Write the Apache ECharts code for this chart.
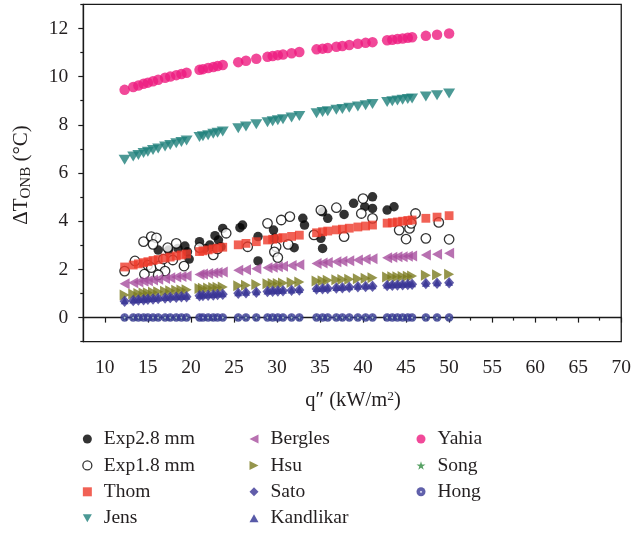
<!DOCTYPE html>
<html>
<head>
<meta charset="utf-8">
<script src="https://cdn.jsdelivr.net/npm/echarts@6/dist/echarts.min.js"></script>
<style>html,body{margin:0;padding:0;background:#fff}#c{width:634px;height:533px}</style>
</head>
<body>
<div id="c"></div>
<script>
// ---- data ----
const xTicks = [10,15,20,25,30,35,40,45,50,55,60,65,70];
const xMinorTicks = [7.5,12.5,17.5,22.5,27.5,32.5,37.5,42.5,47.5,52.5,57.5,62.5,67.5];
const yTicks = [0,2,4,6,8,10,12];
const yMinorTicks = [-1,1,3,5,7,9,11,13];

const qModel = [12.3,13.3,13.9,14.5,15.0,15.6,16.2,17.0,17.6,18.3,18.9,19.5,21.0,21.4,22.0,22.6,23.1,23.7,25.5,26.4,27.6,28.9,29.5,30.1,30.7,31.7,32.6,34.6,35.3,35.9,36.9,37.6,38.4,39.4,40.3,41.1,42.8,43.4,44.0,44.6,45.2,45.7,47.3,48.6,50.0];
const thom = [2.10,2.18,2.23,2.28,2.32,2.37,2.41,2.47,2.51,2.56,2.60,2.64,2.74,2.77,2.81,2.85,2.88,2.92,3.02,3.08,3.15,3.22,3.25,3.29,3.32,3.37,3.42,3.52,3.56,3.59,3.64,3.67,3.71,3.76,3.80,3.84,3.92,3.94,3.97,4.00,4.03,4.05,4.12,4.17,4.23];
const jens = [6.55,6.68,6.75,6.83,6.88,6.95,7.02,7.10,7.16,7.23,7.29,7.35,7.49,7.52,7.57,7.63,7.67,7.72,7.86,7.93,8.02,8.11,8.15,8.19,8.23,8.30,8.36,8.48,8.53,8.56,8.62,8.66,8.71,8.76,8.81,8.86,8.95,8.98,9.01,9.04,9.07,9.09,9.17,9.23,9.30];
const bergles = [1.40,1.45,1.48,1.51,1.53,1.56,1.59,1.62,1.65,1.68,1.71,1.73,1.79,1.81,1.83,1.85,1.87,1.89,1.96,1.99,2.03,2.07,2.09,2.11,2.13,2.16,2.19,2.25,2.27,2.29,2.32,2.34,2.36,2.39,2.42,2.44,2.48,2.50,2.52,2.53,2.55,2.56,2.60,2.63,2.67];
const hsu = [0.94,0.98,1.00,1.02,1.03,1.05,1.07,1.09,1.11,1.13,1.15,1.16,1.21,1.22,1.23,1.25,1.26,1.27,1.32,1.34,1.37,1.40,1.41,1.42,1.44,1.46,1.48,1.52,1.53,1.55,1.57,1.58,1.59,1.61,1.63,1.65,1.68,1.69,1.70,1.71,1.72,1.73,1.76,1.78,1.80];
const sato = [0.68,0.71,0.73,0.74,0.76,0.77,0.79,0.81,0.83,0.84,0.86,0.87,0.91,0.92,0.93,0.94,0.96,0.97,1.01,1.03,1.05,1.08,1.09,1.10,1.11,1.13,1.15,1.19,1.20,1.21,1.23,1.24,1.26,1.28,1.29,1.30,1.33,1.34,1.35,1.36,1.37,1.38,1.41,1.43,1.45];
const kandlikar = [0.70,0.73,0.75,0.76,0.78,0.79,0.81,0.83,0.85,0.86,0.88,0.89,0.93,0.94,0.95,0.96,0.98,0.99,1.03,1.05,1.07,1.10,1.11,1.12,1.13,1.15,1.17,1.21,1.22,1.23,1.25,1.26,1.28,1.30,1.31,1.32,1.35,1.36,1.37,1.38,1.39,1.40,1.43,1.45,1.47];
const yahia = [9.45,9.57,9.63,9.70,9.75,9.81,9.87,9.95,10.00,10.06,10.11,10.16,10.28,10.31,10.36,10.40,10.44,10.48,10.60,10.66,10.74,10.82,10.85,10.89,10.92,10.97,11.02,11.13,11.16,11.19,11.24,11.27,11.31,11.36,11.40,11.43,11.51,11.53,11.56,11.58,11.61,11.63,11.69,11.74,11.79];
const song = [0,0,0,0,0,0,0,0,0,0,0,0,0,0,0,0,0,0,0,0,0,0,0,0,0,0,0,0,0,0,0,0,0,0,0,0,0,0,0,0,0,0,0,0,0];
const hong = [0,0,0,0,0,0,0,0,0,0,0,0,0,0,0,0,0,0,0,0,0,0,0,0,0,0,0,0,0,0,0,0,0,0,0,0,0,0,0,0,0,0,0,0,0];

const exp28 = [[16.2,2.80],[17.4,2.80],[18.5,2.87],[19.3,2.97],[19.6,2.73],[19.8,2.43],
  [21.0,3.15],[21.6,2.87],[22.2,3.01],[22.8,3.40],[23.2,3.22],[23.7,3.70],[23.5,2.94],
  [25.7,3.73],[26.0,3.84],[27.8,3.36],[27.8,2.35],
  [29.6,3.63],[29.7,3.29],[32.0,2.90],[33.0,4.12],[33.2,3.84],
  [35.3,4.39],[35.9,4.12],[35.1,3.29],[35.3,2.87],[37.8,4.28],[38.9,4.74],[40.2,4.60],[41.1,5.01],[41.1,4.53],
  [42.8,4.46],[43.6,4.60]];
const exp18 = [[12.3,1.93],[13.5,2.35],[14.6,1.80],[15.0,2.18],[14.5,3.15],[15.4,3.36],[16.0,3.31],[15.6,3.04],[15.4,2.07],[16.4,2.16],[16.8,2.43],[17.0,1.93],[16.2,1.77],[17.3,2.90],[18.3,3.08],[19.2,2.14],[17.9,2.39],
  [21.0,2.90],[22.6,2.60],[24.1,3.50],[23.1,2.85],[26.6,2.94],
  [28.9,3.91],[30.5,4.05],[31.5,4.19],[29.9,2.94],[29.7,2.73],[30.1,2.49],[31.3,3.04],
  [34.3,3.43],[35.1,4.46],[36.9,4.56],[37.8,3.36],[40.0,4.94],[39.8,4.32],[41.1,4.12],
  [46.1,4.32],[44.2,3.63],[45.4,3.70],[45.0,3.26],[45.6,3.91],[47.3,3.29],[48.8,3.95],[50.0,3.25]];

// ---- chart ----
const FONT = '"Liberation Serif","DejaVu Serif",serif';
const TXT = '#231f20';
const pair = (ys) => qModel.map((q, i) => [q, ys[i]]);
const star = 'path://M50,0 L61,35 L98,35 L68,57 L79,91 L50,70 L21,91 L32,57 L2,35 L39,35 Z';
const triLeft = 'path://M0,5 L10,0 L10,10 Z';
const triRight = 'path://M10,5 L0,0 L0,10 Z';
const triDown = 'path://M0,0 L10,0 L5,9 Z';
const triUp = 'path://M5,0 L10,9 L0,9 Z';
const hongFill = {type:'radial', x:0.5, y:0.5, r:0.5, colorStops:[
  {offset:0,color:'#dcdcf0'},{offset:0.16,color:'#b8b8e0'},{offset:0.3,color:'#3d3d9c'},{offset:1,color:'#343490'}]};

function sc(name, data, symbol, size, itemStyle, z) {
  return {type:'scatter', name, data, symbol, symbolSize:size,
    itemStyle, z:z||2, emphasis:{disabled:true}, silent:true, animation:false};
}

const series = [
  sc('Exp2.8 mm', exp28, 'circle', 9.5, {color:'#000'}),
  sc('Exp1.8 mm', exp18, 'circle', 9.5, {color:'#fff', borderColor:'#000', borderWidth:1.3}),
  sc('Thom', pair(thom), 'rect', 8.8, {color:'#EE3A2A'}),
  sc('Jens', pair(jens), triDown, [12,10], {color:'#1E807A'}),
  sc('Bergles', pair(bergles), triLeft, [10,11], {color:'#A64E9E'}),
  sc('Hsu', pair(hsu), triRight, [10,11], {color:'#7B7B1F'}),
  sc('Sato', pair(sato), 'diamond', [10,11.5], {color:'#3A3495'}, 3),
  sc('Kandlikar', pair(kandlikar), triUp, [8,7], {color:'#2E3192'}, 2),
  sc('Yahia', pair(yahia), 'circle', 10.5, {color:'#ED1C80'}),
  sc('Song', pair(song), star, 8, {color:'#2E8B3E'}),
  sc('Hong', pair(hong), 'circle', 8.5, {color:hongFill})
];

const legendBase = {orient:'vertical', top:429, padding:0, itemWidth:9, itemHeight:9, itemGap:6.4,
  selectedMode:false, textStyle:{fontFamily:FONT, fontSize:19.5, color:TXT, lineHeight:20, padding:[0,0,0,7]}};

const option = {
  backgroundColor:'#fff',
  animation:false,
  grid:{left:83.3, right:11.3, top:4.3, bottom:191.3, show:true, borderColor:'#1a1a1a', borderWidth:1.3, backgroundColor:'transparent'},
  xAxis:[{
    type:'value', min:7.5, max:70, position:'bottom',
    axisLine:{show:true, lineStyle:{color:'#1a1a1a', width:1.3}},
    axisTick:{show:true, inside:false, length:5, customValues:xTicks, lineStyle:{color:'#1a1a1a', width:1.2}},
    axisLabel:{customValues:xTicks, margin:16, fontFamily:FONT, fontSize:19.5, color:TXT},
    splitLine:{show:false}
  },{
    type:'value', min:7.5, max:70, position:'bottom',
    axisLine:{show:false},
    axisTick:{show:true, inside:false, length:3, customValues:xMinorTicks, lineStyle:{color:'#1a1a1a', width:1.2}},
    axisLabel:{show:false}, splitLine:{show:false}
  }],
  yAxis:[{
    type:'value', min:-1, max:13, position:'left',
    axisLine:{show:true, lineStyle:{color:'#1a1a1a', width:1.3}},
    axisTick:{show:true, inside:false, length:5, customValues:yTicks, lineStyle:{color:'#1a1a1a', width:1.2}},
    axisLabel:{customValues:yTicks, margin:15, fontFamily:FONT, fontSize:19.5, color:TXT},
    splitLine:{show:false}
  },{
    type:'value', min:-1, max:13, position:'left',
    axisLine:{show:false},
    axisTick:{show:true, inside:false, length:3, customValues:yMinorTicks, lineStyle:{color:'#1a1a1a', width:1.2}},
    axisLabel:{show:false}, splitLine:{show:false}
  }],
  legend:[
    Object.assign({}, legendBase, {left:82.2, data:['Exp2.8 mm',{name:'Exp1.8 mm', itemStyle:{borderWidth:1.3}},{name:'Thom', itemWidth:8, itemHeight:8},'Jens']}),
    Object.assign({}, legendBase, {left:249.5, data:['Bergles','Hsu','Sato','Kandlikar']}),
    Object.assign({}, legendBase, {left:416.5, data:['Yahia','Song','Hong']})
  ],
  graphic:[
    {type:'text', x:21, y:175, rotation:Math.PI/2, style:{
      text:'{a|ΔT}{b|ONB}{a| (°C)}', align:'center', verticalAlign:'middle', fill:TXT,
      rich:{a:{fontFamily:FONT, fontSize:21, fill:TXT}, b:{fontFamily:FONT, fontSize:15, fill:TXT, padding:[11,0,0,0]}}}},
    {type:'text', x:353, y:401, style:{
      text:'{a|q″ (kW/m}{s|2}{a|)}', align:'center', verticalAlign:'middle', fill:TXT,
      rich:{a:{fontFamily:FONT, fontSize:20.5, fill:TXT}, s:{fontFamily:FONT, fontSize:13.5, fill:TXT, padding:[0,0,9,0]}}}}
  ],
  series: series.map((s) => Object.assign(s, {xAxisIndex:0, yAxisIndex:0}))
};

const chart = echarts.init(document.getElementById('c'), null, {renderer:'canvas'});
chart.setOption(option);
</script>
</body>
</html>
